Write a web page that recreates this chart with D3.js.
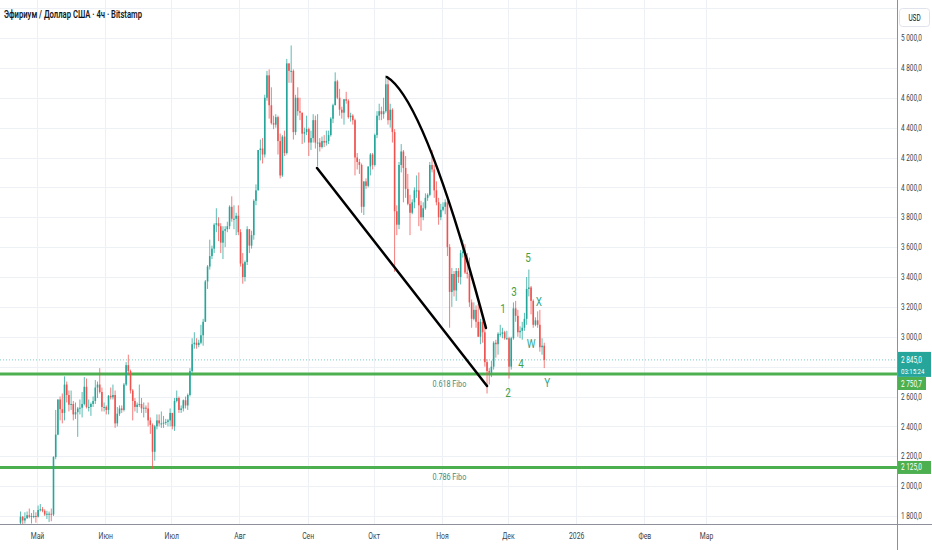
<!DOCTYPE html>
<html>
<head>
<meta charset="utf-8">
<script src="https://cdn.jsdelivr.net/npm/d3@7"></script>
<style>
  html, body { margin: 0; padding: 0; background: #fff; }
  svg { display: block; font-family: Roboto, "Noto Sans", sans-serif; }
</style>
</head>
<body>
<script>
// ETH/USD daily candles, one entry per day from 2025-04-23.
// open of each day = close of the day before
var firstDay = "2025-04-23";
var firstOpen = 1755;

var highs = [
  // Apr 23-30
  1830,1800,1825,1830,1850,1820,1840,1825,
  // May
  1870,1880,1860,1845,1835,1830,1850,2200,2510,2580,2600,2620,2735,2700,2640,2640,2570,2560,2530,2580,2630,2730,2720,2580,2560,2600,2710,2700,2790,2660,2560,
  // Jun
  2540,2610,2660,2680,2640,2530,2540,2540,2690,2830,2880,2780,2650,2590,2560,2680,2590,2560,2540,2560,2460,2420,2410,2480,2480,2500,2470,2450,2450,2520,
  // Jul
  2490,2590,2640,2600,2540,2580,2600,2620,2790,2990,3030,2990,2980,3080,3120,3380,3480,3650,3610,3760,3860,3800,3760,3740,3740,3770,3880,3940,3880,3830,3880,
  // Aug
  3720,3560,3510,3740,3720,3710,3920,4020,4250,4320,4330,4620,4780,4790,4670,4480,4490,4480,4360,4350,4380,4860,4830,4950,4790,4620,4670,4600,4500,4400,4480,
  // Sep
  4400,4380,4490,4480,4490,4330,4340,4350,4380,4380,4470,4560,4770,4720,4660,4540,4590,4640,4590,4500,4490,4460,4230,4190,4160,4040,4060,4140,4230,4230,
  // Oct
  4360,4510,4560,4540,4600,4750,4740,4560,4530,4390,3880,4170,4290,4250,4210,4090,3950,3920,4000,4080,4100,3910,3900,3960,3960,4170,4250,4150,4040,3930,3890,
  // Nov
  3900,3920,3910,3620,3460,3440,3460,3460,3580,3650,3620,3560,3530,3250,3230,3210,3220,3120,3110,3070,2850,2790,2840,2970,2980,3030,3080,3060,3040,3040,
  // Dec 1-17
  3000,3000,3230,3240,3180,3070,3100,3160,3400,3450,3340,3250,3130,3170,3180,2990,2960
];

var lows = [
  1745,1740,1750,1780,1785,1750,1785,1755,
  1790,1830,1825,1800,1780,1760,1765,1800,2180,2340,2440,2420,2440,2560,2500,2510,2440,2450,2330,2480,2460,2540,2520,2500,2470,2530,2550,2590,2620,2500,2500,
  2480,2480,2580,2580,2390,2400,2470,2490,2500,2670,2750,2620,2440,2500,2490,2530,2490,2460,2490,2400,2350,2115,2170,2380,2400,2390,2390,2410,2400,2400,
  2380,2370,2560,2490,2490,2500,2520,2510,2600,2760,2920,2920,2930,2950,2940,3100,3320,3450,3520,3560,3700,3640,3560,3520,3600,3700,3720,3770,3720,3680,3680,
  3470,3355,3370,3480,3560,3590,3650,3880,3980,4180,4160,4200,4580,4460,4420,4390,4400,4220,4060,4070,4210,4220,4700,4700,4320,4350,4480,4450,4290,4300,4350,
  4210,4250,4300,4260,4140,4240,4260,4270,4280,4290,4340,4430,4550,4590,4480,4460,4420,4560,4460,4440,4420,4080,4120,4090,3830,3815,3990,4000,4080,4120,
  4140,4330,4450,4450,4460,4500,4420,4400,4300,3435,3680,3720,4100,3900,3930,3880,3680,3820,3860,3930,3740,3710,3780,3850,3910,3940,4100,3930,3880,3750,3780,
  3840,3820,3540,3060,3200,3270,3240,3360,3350,3530,3420,3390,3200,3060,3110,3060,3000,2950,2960,2800,2620,2680,2730,2780,2860,2880,3000,2990,2980,2980,
  2720,2780,2980,3100,3000,2990,2980,3040,3080,3270,3150,3060,3070,3060,2900,2880,2790
];

var closes = [
  1795,1770,1785,1805,1795,1800,1800,1795,
  1840,1845,1835,1810,1815,1815,1810,2195,2345,2580,2515,2490,2680,2610,2545,2550,2480,2495,2520,2525,2550,2665,2530,2530,2550,2570,2660,2680,2630,2530,2530,
  2510,2605,2595,2610,2420,2485,2520,2510,2680,2810,2770,2640,2570,2530,2545,2550,2520,2525,2520,2440,2410,2230,2400,2440,2420,2420,2425,2430,2440,2490,
  2400,2570,2590,2510,2520,2575,2540,2610,2770,2950,2960,2945,2960,3010,3100,3370,3470,3540,3590,3750,3760,3740,3630,3710,3720,3740,3870,3790,3790,3810,3700,
  3490,3400,3500,3720,3610,3680,3910,3980,4250,4260,4220,4600,4750,4550,4430,4420,4470,4310,4080,4340,4230,4830,4780,4780,4370,4600,4510,4500,4360,4370,4390,
  4300,4330,4450,4300,4300,4270,4310,4300,4310,4350,4460,4550,4710,4600,4520,4500,4590,4580,4470,4480,4450,4200,4170,4150,3870,4040,4010,4140,4220,4150,
  4350,4480,4510,4490,4510,4690,4450,4520,4370,3840,3750,4150,4240,4130,3990,3890,3830,3900,3980,3980,3880,3800,3860,3930,3950,4150,4120,3980,3900,3800,3850,
  3870,3900,3600,3300,3420,3310,3440,3400,3560,3570,3430,3420,3230,3120,3180,3100,3000,3100,3030,2830,2770,2760,2800,2960,2950,3020,3020,3030,2990,2990,
  2800,2990,3190,3140,3030,3040,3060,3120,3320,3330,3240,3080,3110,3080,2930,2940,2845
];

// axes
var gridPrices = [1800,2000,2200,2400,2600,2800,3000,3200,3400,3600,3800,4000,4200,4400,4600,4800,5000,5200];
// 2800 sits under the last-price badge and 5200 under the USD badge, so they get no label
var priceLabels = [1800,2000,2200,2400,2600,3000,3200,3400,3600,3800,4000,4200,4400,4600,4800,5000];
var monthTicks = ["2025-05-01","2025-06-01","2025-07-01","2025-08-01","2025-09-01","2025-10-01","2025-11-01","2025-12-01","2026-01-01","2026-02-01","2026-03-01"];
var monthLabels = ["Май","Июн","Июл","Авг","Сен","Окт","Ноя","Дек","2026","Фев","Мар"];

// levels and drawings
var lastPrice = 2845.0;
var countdown = "03:15:24";
var fiboLevels = [2750.7, 2125.0];
var fiboNames = ["0.618 Fibo", "0.786 Fibo"];
var fiboLabelDate = "2025-11-04 09";
var straightLine = [["2025-09-05 06", 4130], ["2025-11-21 12", 2671]];
var arcLine = [["2025-10-07 00", 4739], ["2025-10-24 10", 4585], ["2025-11-21 00", 3059]];
var waveNames = ["1","2","3","4","5","W","X","Y"];
var waveDates = ["2025-11-28 18","2025-12-01 00","2025-12-03 17","2025-12-06 22","2025-12-10 02","2025-12-11 12","2025-12-15 02","2025-12-18 19"];
var wavePrices = [3190, 2631, 3307, 2825, 3534, 2959, 3240, 2698];

var width = 932, height = 550;
var plotRight = 897, plotBottom = 524;
var squeeze = 0.76; // the screenshot text is horizontally narrow

var upColor = "#26a69a", downColor = "#ef5350", levelColor = "#4caf50";
var gridColor = "#edf0f4", axisLine = "#8d9099", textColor = "#3c3f48";

var parseDay = d3.timeParse("%Y-%m-%d");
var parseHour = d3.timeParse("%Y-%m-%d %H");

var svg = d3.select("body").append("svg")
    .attr("width", width)
    .attr("height", height);

var x = d3.scaleTime()
    .domain([parseDay("2025-05-01"), parseDay("2026-03-01")])
    .range([37, 706]);

var y = d3.scaleLinear()
    .domain([1800, 5000])
    .range([516, 38]);

svg.append("defs").append("clipPath").attr("id", "plotClip")
  .append("rect").attr("x", 0).attr("y", 0).attr("width", plotRight).attr("height", plotBottom);

// gridlines
var grid = svg.append("g");
grid.selectAll(".hgrid").data(gridPrices).enter().append("line")
    .attr("x1", 0).attr("x2", plotRight)
    .attr("y1", d => Math.round(y(d)) + 0.5).attr("y2", d => Math.round(y(d)) + 0.5)
    .attr("stroke", gridColor);
grid.selectAll(".vgrid").data(monthTicks).enter().append("line")
    .attr("x1", d => Math.round(x(parseDay(d))) + 0.5).attr("x2", d => Math.round(x(parseDay(d))) + 0.5)
    .attr("y1", 0).attr("y2", plotBottom)
    .attr("stroke", gridColor);

// build candles
var candles = [];
var prev = firstOpen;
closes.forEach(function(c, i) {
    var o = prev;
    candles.push({
        date: d3.timeHour.offset(d3.timeDay.offset(parseDay(firstDay), i), 12),
        open: o, close: c,
        high: Math.max(highs[i], o, c),
        low: Math.min(lows[i], o, c)
    });
    prev = c;
});

var plot = svg.append("g").attr("clip-path", "url(#plotClip)");

// last price line
plot.append("line")
    .attr("x1", 0).attr("x2", plotRight)
    .attr("y1", y(lastPrice)).attr("y2", y(lastPrice))
    .attr("stroke", upColor).attr("stroke-opacity", 0.6)
    .attr("stroke-dasharray", "1,2");

// fibo levels
plot.selectAll(".fibo").data(fiboLevels).enter().append("line")
    .attr("x1", 0).attr("x2", plotRight)
    .attr("y1", d => y(d)).attr("y2", d => y(d))
    .attr("stroke", levelColor).attr("stroke-width", 3);

// candles
plot.selectAll(".wick").data(candles).enter().append("line")
    .attr("x1", d => x(d.date)).attr("x2", d => x(d.date))
    .attr("y1", d => y(d.high)).attr("y2", d => y(d.low))
    .attr("stroke", d => d.close >= d.open ? upColor : downColor)
    .attr("stroke-opacity", 0.75)
    .attr("stroke-width", 1);

plot.selectAll(".body").data(candles).enter().append("rect")
    .attr("x", d => x(d.date) - 0.8)
    .attr("width", 1.6)
    .attr("y", d => y(Math.max(d.open, d.close)))
    .attr("height", d => Math.max(1, Math.abs(y(d.open) - y(d.close))))
    .attr("fill", d => d.close >= d.open ? upColor : downColor);

// drawn trend lines
plot.append("line")
    .attr("x1", x(parseHour(straightLine[0][0]))).attr("y1", y(straightLine[0][1]))
    .attr("x2", x(parseHour(straightLine[1][0]))).attr("y2", y(straightLine[1][1]))
    .attr("stroke", "#000").attr("stroke-width", 2.5).attr("stroke-linecap", "round");

var arcPath = d3.path();
arcPath.moveTo(x(parseHour(arcLine[0][0])), y(arcLine[0][1]));
arcPath.quadraticCurveTo(x(parseHour(arcLine[1][0])), y(arcLine[1][1]),
                         x(parseHour(arcLine[2][0])), y(arcLine[2][1]));
plot.append("path")
    .attr("d", arcPath.toString())
    .attr("fill", "none")
    .attr("stroke", "#000").attr("stroke-width", 2.5).attr("stroke-linecap", "round");

// text helper: squeezed horizontally like the screenshot
function addText(parent, xPos, yPos, str, size, fill, anchor, weight) {
    var t = parent.append("text")
        .attr("transform", "translate(" + xPos + "," + yPos + ") scale(" + squeeze + ",1)")
        .attr("text-anchor", anchor || "start")
        .style("font-size", size + "px")
        .style("fill", fill)
        .text(str);
    if (weight) t.style("font-weight", weight);
    return t;
}

// fibo labels
var fiboX = x(parseHour(fiboLabelDate));
fiboLevels.forEach(function(v, i) {
    addText(svg, fiboX, y(v) + 13, fiboNames[i], 9.5, "#3f8a80", "middle");
});

// wave labels
waveNames.forEach(function(n, i) {
    var isLetter = isNaN(+n);
    addText(svg, x(parseHour(waveDates[i])), y(wavePrices[i]) + 5, n, 13,
            isLetter ? "#2aa58c" : "#43a047", "middle");
});

// axes frame
svg.append("rect").attr("x", plotRight).attr("y", 0).attr("width", width - plotRight).attr("height", height).attr("fill", "#fff");
svg.append("rect").attr("x", 0).attr("y", plotBottom).attr("width", width).attr("height", height - plotBottom).attr("fill", "#fff");
svg.append("line").attr("x1", plotRight + 0.5).attr("x2", plotRight + 0.5).attr("y1", 0).attr("y2", height)
    .attr("stroke", axisLine);
svg.append("line").attr("x1", 0).attr("x2", width).attr("y1", plotBottom + 0.5).attr("y2", plotBottom + 0.5)
    .attr("stroke", axisLine);

// price axis
var ru = d3.formatLocale({decimal: ",", thousands: "\u00a0", grouping: [3], currency: ["", ""]});
var fmt = ru.format(",.1f");

var yAxis = svg.append("g")
    .attr("transform", "translate(" + (plotRight + 4) + ",0)")
    .call(d3.axisRight(y).tickValues(priceLabels).tickSize(0).tickPadding(0).tickFormat(fmt));
yAxis.select(".domain").remove();
yAxis.selectAll("text")
    .attr("transform", "scale(" + squeeze + ",1)")
    .style("font-size", "8.5px")
    .style("font-family", "Roboto, 'Noto Sans', sans-serif")
    .style("fill", textColor);

// time axis
var xAxis = svg.append("g")
    .attr("transform", "translate(0," + plotBottom + ")")
    .call(d3.axisBottom(x).tickValues(monthTicks.map(parseDay)).tickSize(0).tickPadding(9)
        .tickFormat((d, i) => monthLabels[i]));
xAxis.select(".domain").remove();
xAxis.selectAll("text")
    .attr("x", 0)
    .attr("transform", "scale(" + squeeze + ",1)")
    .style("font-size", "9px")
    .style("font-family", "Roboto, 'Noto Sans', sans-serif")
    .style("fill", textColor);

// USD badge
svg.append("rect").attr("x", 899.5).attr("y", 8.5).attr("width", 30).attr("height", 18).attr("rx", 3)
    .attr("fill", "#fff").attr("stroke", "#e0e3eb");
addText(svg, 914.5, 21, "USD", 8.5, "#131722", "middle");

// price badges
var lp = y(lastPrice);
svg.append("rect").attr("x", plotRight + 1).attr("y", lp - 8).attr("width", width - plotRight - 2).attr("height", 25)
    .attr("fill", upColor);
addText(svg, plotRight + 4, lp + 3, fmt(lastPrice), 8.5, "#fff");
addText(svg, plotRight + 4, lp + 14, countdown, 8, "#fff");

var f1 = y(fiboLevels[0]);
svg.append("rect").attr("x", plotRight + 1).attr("y", f1 + 3).attr("width", 28).attr("height", 13)
    .attr("fill", levelColor);
addText(svg, plotRight + 4, f1 + 13, fmt(fiboLevels[0]), 8.5, "#fff");

var f2 = y(fiboLevels[1]);
svg.append("rect").attr("x", plotRight + 1).attr("y", f2 - 6.5).attr("width", width - plotRight - 2).attr("height", 13)
    .attr("fill", levelColor);
addText(svg, plotRight + 4, f2 + 3, fmt(fiboLevels[1]), 8.5, "#fff");

// title
svg.append("text")
    .attr("x", 4).attr("y", 18)
    .attr("textLength", 138).attr("lengthAdjust", "spacingAndGlyphs")
    .style("font-size", "10px").style("font-weight", 600)
    .style("fill", "#131722")
    .text("Эфириум / Доллар США · 4ч · Bitstamp");
</script>
</body>
</html>
